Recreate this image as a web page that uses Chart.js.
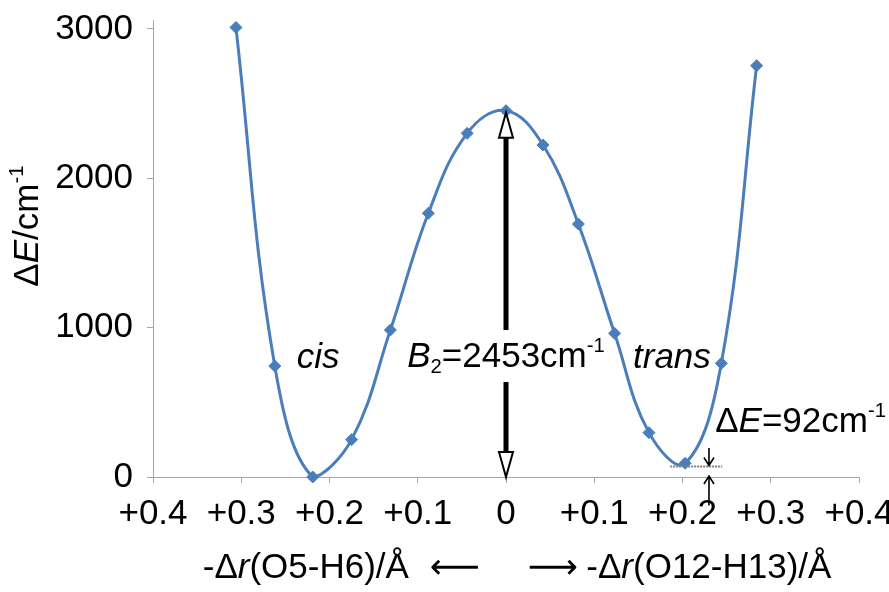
<!DOCTYPE html>
<html><head><meta charset="utf-8">
<script src="https://cdn.jsdelivr.net/npm/chart.js@4.4.1/dist/chart.umd.min.js"></script>
<style>html,body{margin:0;padding:0;background:#fff}#wrap{width:889px;height:592px;position:relative}</style>
</head><body><div id="wrap"><canvas id="c"></canvas></div>
<script>
// ---- data ----
const displacement = [-0.306, -0.262, -0.219, -0.175, -0.131, -0.088, -0.044, 0, 0.042, 0.082, 0.123, 0.162, 0.203, 0.244, 0.284];
const energy       = [3010, 743, 0, 250, 984, 1766, 2301, 2453, 2223, 1694, 962, 297, 92, 761, 2754];
const xTickValues  = [-0.4, -0.3, -0.2, -0.1, 0, 0.1, 0.2, 0.3, 0.4];
const xTickLabels  = ['+0.4', '+0.3', '+0.2', '+0.1', '0', '+0.1', '+0.2', '+0.3', '+0.4'];
const yTickValues  = [0, 1000, 2000, 3000];
const barrierB2    = 2453;
const deltaE       = 92;

const FONT = "'Liberation Sans', Arial, 'DejaVu Sans', sans-serif";
const BLUE = '#4A7EBB';
const AXIS = '#a6a6a6';

function fontOf(size, it) { return (it ? 'italic ' : '') + size + 'px ' + FONT; }
function richWidth(ctx, segs, size) {
  let w = 0;
  for (const s of segs) {
    const sz = (s.sub || s.sup) ? size * 0.58 : size;
    ctx.font = fontOf(sz, s.it);
    w += ctx.measureText(s.t).width;
  }
  return w;
}
function drawRich(ctx, segs, x, y, size, align) {
  const w = richWidth(ctx, segs, size);
  let cx = align === 'left' ? x : align === 'right' ? x - w : x - w / 2;
  ctx.textBaseline = 'middle';
  ctx.textAlign = 'left';
  ctx.fillStyle = '#000';
  for (const s of segs) {
    const sz = (s.sub || s.sup) ? size * 0.58 : size;
    ctx.font = fontOf(sz, s.it);
    const dy = s.sup ? -size * 0.3 : s.sub ? size * 0.3 : 0;
    ctx.fillText(s.t, cx, y + dy);
    cx += ctx.measureText(s.t).width;
  }
}

const annot = {
  id: 'annot',
  afterDatasetsDraw(chart) {
    const ctx = chart.ctx, xs = chart.scales.x, ys = chart.scales.y, ca = chart.chartArea;
    const X = v => xs.getPixelForValue(v), Y = v => ys.getPixelForValue(v);
    ctx.save();

    // ---- double arrow for barrier ----
    const ax = X(0), yTop = Y(barrierB2), yBot = Y(0);
    const hl = 25, hw = 7;
    const labelY = Y(803);
    ctx.strokeStyle = '#000';
    ctx.lineWidth = 5;
    ctx.beginPath();
    ctx.moveTo(ax, yTop + hl - 1); ctx.lineTo(ax, labelY - 27);
    ctx.moveTo(ax, labelY + 25); ctx.lineTo(ax, yBot - hl + 1);
    ctx.stroke();
    function openHead(tipY, dir) {
      ctx.beginPath();
      ctx.moveTo(ax, tipY);
      ctx.lineTo(ax - hw, tipY + dir * hl);
      ctx.lineTo(ax + hw, tipY + dir * hl);
      ctx.closePath();
      ctx.fillStyle = '#fff'; ctx.fill();
      ctx.lineWidth = 2; ctx.strokeStyle = '#000'; ctx.stroke();
    }
    openHead(yTop + 2, 1);
    openHead(yBot, -1);

    // ---- dashed level of trans minimum ----
    ctx.beginPath();
    ctx.setLineDash([2, 1]);
    ctx.strokeStyle = '#808080';
    ctx.lineWidth = 2;
    ctx.moveTo(X(0.186), Y(70)); ctx.lineTo(X(0.245), Y(70));
    ctx.stroke();
    ctx.setLineDash([]);

    // ---- small arrows ----
    const sx = X(0.230);
    function thinArrow(fromY, tipY) {
      const d = tipY > fromY ? 1 : -1;
      ctx.beginPath();
      ctx.strokeStyle = '#000'; ctx.lineWidth = 1.6;
      ctx.moveTo(sx, fromY); ctx.lineTo(sx, tipY);
      ctx.moveTo(sx - 5, tipY - d * 8); ctx.lineTo(sx, tipY); ctx.lineTo(sx + 5, tipY - d * 8);
      ctx.stroke();
    }
    thinArrow(Y(194), Y(70) - 1);
    thinArrow(Y(-190), Y(0) - 1);

    // ---- texts ----
    const fs = 35;
    drawRich(ctx, [{t: 'cis', it: true}], X(-0.213), Y(797), fs, 'center');
    drawRich(ctx, [{t: 'trans', it: true}], X(0.188), Y(797), fs, 'center');
    drawRich(ctx, [{t: 'B', it: true}, {t: '2', sub: true}, {t: '=' + barrierB2 + 'cm'}, {t: '-1', sup: true}], X(0), labelY, fs, 'center');
    drawRich(ctx, [{t: '\u0394'}, {t: 'E', it: true}, {t: '=' + deltaE + 'cm'}, {t: '-1', sup: true}], X(0.237), Y(368), fs, 'left');

    // ---- axis titles ----
    ctx.save();
    ctx.translate(ca.left - 125, Y(1680));
    ctx.rotate(-Math.PI / 2);
    drawRich(ctx, [{t: '\u0394'}, {t: 'E', it: true}, {t: '/cm'}, {t: '-1', sup: true}], 0, 0, 35, 'center');
    ctx.restore();

    const ty = ca.bottom + 91;
    drawRich(ctx, [{t: '-\u0394'}, {t: 'r', it: true}, {t: '(O5-H6)/\u00C5'}], X(-0.110), ty, 35, 'right');
    drawRich(ctx, [{t: '\u27F5'}], X(-0.058), ty, 35, 'center');
    drawRich(ctx, [{t: '\u27F6'}], X(0.053), ty, 35, 'center');
    drawRich(ctx, [{t: '-\u0394'}, {t: 'r', it: true}, {t: '(O12-H13)/\u00C5'}], X(0.091), ty, 35, 'left');

    ctx.restore();
  }
};

new Chart(document.getElementById('c'), {
  type: 'scatter',
  data: {
    datasets: [{
      data: displacement.map((x, i) => ({x, y: energy[i]})),
      showLine: true,
      borderColor: BLUE,
      backgroundColor: BLUE,
      borderWidth: 3,
      tension: 0.4,
      pointStyle: 'rectRot',
      pointRadius: 6,
      pointBorderWidth: 1,
      pointBorderColor: BLUE,
      pointBackgroundColor: BLUE,
      clip: false
    }]
  },
  options: {
    responsive: true,
    maintainAspectRatio: false,
    animation: false,
    elements: { line: { capBezierPoints: true } },
    layout: { padding: { left: 0, top: 20, right: 30, bottom: 0 } },
    plugins: { legend: { display: false }, tooltip: { enabled: false } },
    scales: {
      x: {
        type: 'linear', min: -0.4, max: 0.4,
        afterBuildTicks: s => { s.ticks = xTickValues.map(v => ({value: v})); },
        afterFit: s => { s.height = 115; s.paddingLeft = 0; s.paddingRight = 0; },
        ticks: {
          color: '#000', font: {family: FONT, size: 35}, padding: 10, maxRotation: 0, autoSkip: false,
          callback: (v, i) => xTickLabels[i]
        },
        grid: { drawOnChartArea: false, drawTicks: true, tickLength: 6, color: AXIS },
        border: { color: AXIS, width: 1 }
      },
      y: {
        type: 'linear', min: 0, max: 3060,
        afterBuildTicks: s => { s.ticks = yTickValues.map(v => ({value: v})); },
        afterFit: s => { s.width = 153; s.paddingTop = 0; s.paddingBottom = 0; },
        ticks: { color: '#000', font: {family: FONT, size: 35}, padding: 14, callback: v => String(v) },
        grid: { drawOnChartArea: false, drawTicks: true, tickLength: 6, color: AXIS },
        border: { color: AXIS, width: 1 }
      }
    }
  },
  plugins: [annot]
});
</script>
</body></html>
